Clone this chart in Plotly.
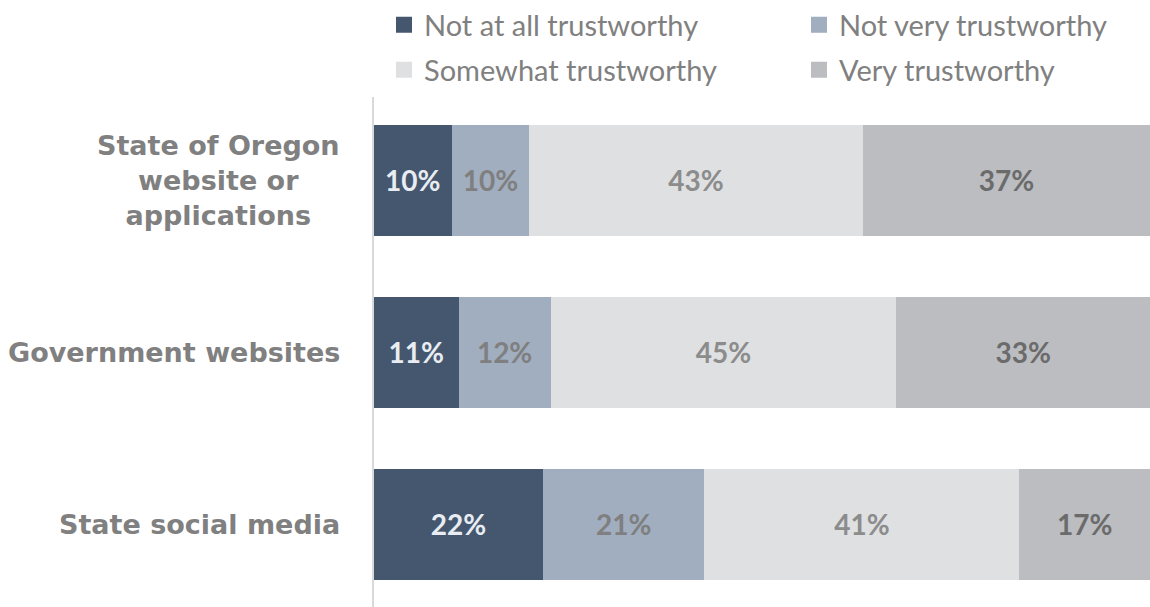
import plotly.graph_objects as go

# Survey categories (top to bottom) and the share answering each trust level
categories = [
    "State of Oregon<br>website or<br>applications",
    "Government websites",
    "State social media",
]
not_at_all = [10, 11, 22]
not_very = [10, 12, 21]
somewhat = [43, 45, 41]
very = [37, 33, 17]

# name, values, fill, label colour, legend id
series = [
    ("Not at all trustworthy", not_at_all, "#44576E", "#E9ECF2", "legend"),
    ("Not very trustworthy", not_very, "#A1AEBF", "#7F7F7F", "legend2"),
    ("Somewhat trustworthy", somewhat, "#DFE0E2", "#8C8C8C", "legend3"),
    ("Very trustworthy", very, "#BCBDC1", "#6B6B6B", "legend4"),
]

ypos = list(range(len(categories)))

fig = go.Figure()
for name, vals, color, txtcolor, leg in series:
    fig.add_trace(go.Bar(
        name=name,
        y=ypos,
        x=vals,
        orientation="h",
        marker=dict(color=color, line=dict(width=0)),
        width=0.646,
        text=[f"{v}%" for v in vals],
        textposition="inside",
        insidetextanchor="middle",
        textangle=0,
        constraintext="none",
        textfont=dict(family="Lato", size=28, color=txtcolor, weight="bold"),
        showlegend=False,
        hoverinfo="skip",
    ))
    # legend key: a larger square swatch than the default bar key
    fig.add_trace(go.Scatter(
        name=name,
        x=[None], y=[None],
        mode="markers",
        marker=dict(symbol="square", size=16, color=color),
        legend=leg,
        showlegend=True,
        hoverinfo="skip",
    ))

legend_style = dict(
    orientation="h",
    xref="container", yref="container",
    xanchor="left", yanchor="middle",
    font=dict(family="Lato", size=29, color="#808080"),
    itemwidth=30,
    itemsizing="trace",
    bgcolor="rgba(0,0,0,0)",
)

row1_y = 1 - 25 / 607
row2_y = 1 - 70 / 607
col1_x = 384 / 1150
col2_x = 799 / 1150

fig.update_layout(
    width=1150, height=607,
    margin=dict(l=374, r=0, t=97, b=0),
    paper_bgcolor="white", plot_bgcolor="white",
    barmode="stack", barnorm="percent",
    showlegend=True,
    legend=dict(legend_style, x=col1_x, y=row1_y),
    legend2=dict(legend_style, x=col2_x, y=row1_y),
    legend3=dict(legend_style, x=col1_x, y=row2_y),
    legend4=dict(legend_style, x=col2_x, y=row2_y),
    xaxis=dict(range=[0, 100], visible=False, fixedrange=True),
    yaxis=dict(
        range=[2.483, -0.486],
        showticklabels=False, showgrid=False, zeroline=False,
        showline=True, linecolor="#D9D9D9", linewidth=2,
        ticks="",
    ),
)

# Category labels, centred line by line and right-aligned against the axis
for i, cat in enumerate(categories):
    fig.add_annotation(
        x=0, xref="paper", y=i, yref="y",
        xanchor="right", yanchor="middle", xshift=-32,
        text=cat, showarrow=False, align="center",
        font=dict(family="DejaVu Sans", size=27, color="#808080", weight="bold"),
    )

fig.write_html("out.html")
